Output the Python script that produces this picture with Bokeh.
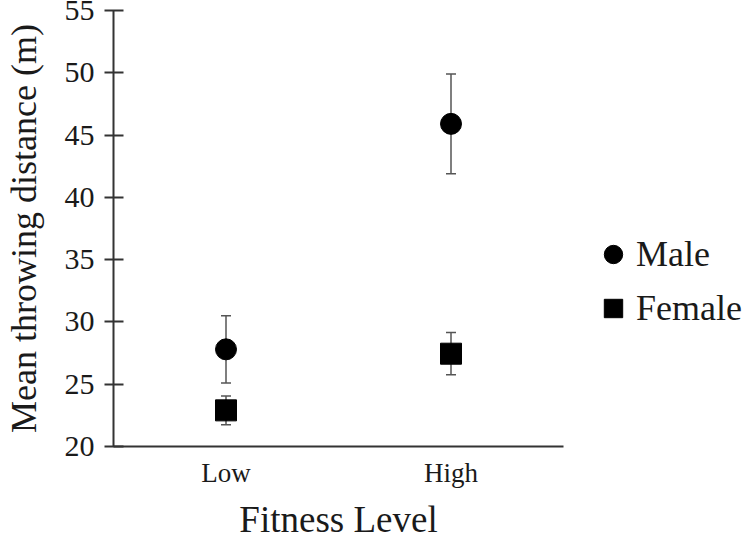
from bokeh.plotting import figure
from bokeh.models import (ColumnDataSource, FactorRange, Range1d, FixedTicker,
                          Whisker, TeeHead, Legend, LegendItem)
from bokeh.embed import file_html
from bokeh.resources import INLINE

# ---- data ----
levels = ["Low", "High"]
male_mean = [27.8, 45.9]
male_err = [2.7, 4.0]
female_mean = [22.9, 27.45]
female_err = [1.15, 1.7]
y_ticks = [20, 25, 30, 35, 40, 45, 50, 55]

FONT = "Liberation Serif"
TEXT = "#1a1a1a"
AXIS = "#333333"
ERR = "#555555"

src_m = ColumnDataSource(dict(
    x=levels, y=male_mean,
    upper=[m + e for m, e in zip(male_mean, male_err)],
    lower=[m - e for m, e in zip(male_mean, male_err)]))
src_f = ColumnDataSource(dict(
    x=levels, y=female_mean,
    upper=[m + e for m, e in zip(female_mean, female_err)],
    lower=[m - e for m, e in zip(female_mean, female_err)]))

p = figure(x_range=FactorRange(*levels), y_range=Range1d(20, 55),
           frame_width=450, frame_height=436,
           min_border_left=112, min_border_top=10, min_border_bottom=95,
           min_border_right=188,
           output_backend="svg", toolbar_location=None)

for src in (src_m, src_f):
    w = Whisker(base="x", upper="upper", lower="lower", source=src,
                dimension="height", line_color=ERR, line_width=1.5,
                upper_head=TeeHead(size=10, line_color=ERR, line_width=1.5),
                lower_head=TeeHead(size=10, line_color=ERR, line_width=1.5),
                level="underlay")
    p.add_layout(w)

rm = p.scatter("x", "y", source=src_m, marker="circle", size=21,
               fill_color="black", line_color="black")
rf = p.scatter("x", "y", source=src_f, marker="square", size=21,
               fill_color="black", line_color="black")

legend = Legend(items=[LegendItem(label="Male", renderers=[rm]),
                       LegendItem(label="Female", renderers=[rf])],
                location=(27, 112), glyph_width=46, glyph_height=52,
                label_standoff=0, spacing=2, padding=0, margin=0,
                border_line_color=None, background_fill_alpha=0,
                label_text_font=FONT, label_text_font_size="36px",
                label_text_color=TEXT)
p.add_layout(legend, "right")

p.xgrid.visible = False
p.ygrid.visible = False
p.outline_line_color = None
p.background_fill_color = "white"
p.border_fill_color = "white"

xa = p.xaxis[0]
xa.axis_line_width = 2
xa.axis_line_color = AXIS
xa.major_tick_line_color = None
xa.minor_tick_line_color = None
xa.major_label_standoff = 5
xa.major_label_text_font = FONT
xa.major_label_text_font_size = "27px"
xa.major_label_text_color = TEXT
xa.axis_label = "Fitness Level"
xa.axis_label_text_font = FONT
xa.axis_label_text_font_size = "37px"
xa.axis_label_text_font_style = "normal"
xa.axis_label_text_color = TEXT
xa.axis_label_standoff = 8

ya = p.yaxis[0]
ya.ticker = FixedTicker(ticks=y_ticks)
ya.axis_line_width = 2
ya.axis_line_color = AXIS
ya.major_tick_line_color = AXIS
ya.major_tick_line_width = 2
ya.major_tick_in = 10
ya.major_tick_out = 9
ya.minor_tick_line_color = None
ya.major_label_standoff = 10
ya.major_label_text_font = FONT
ya.major_label_text_font_size = "30px"
ya.major_label_text_color = TEXT
ya.axis_label = "Mean throwing distance (m)"
ya.axis_label_text_font = FONT
ya.axis_label_text_font_size = "36px"
ya.axis_label_text_font_style = "normal"
ya.axis_label_text_color = TEXT
ya.axis_label_standoff = 18

open("out.html", "w").write(file_html(p, INLINE))
